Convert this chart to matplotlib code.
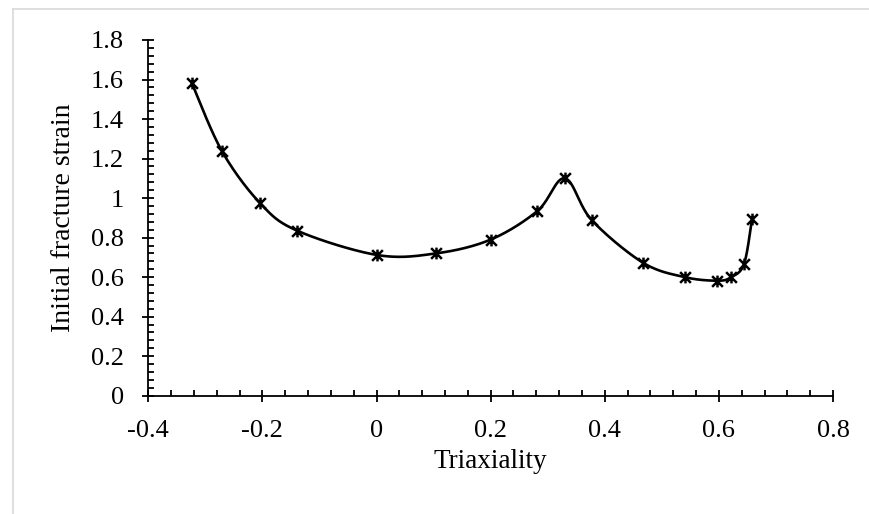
import numpy as np
import matplotlib
matplotlib.use('Agg')
import matplotlib.pyplot as plt
from matplotlib.path import Path
from matplotlib.ticker import MultipleLocator, FuncFormatter
from matplotlib.lines import Line2D

# data
triaxiality = [-0.324, -0.271, -0.204, -0.139, 0.001, 0.104, 0.200, 0.282,
               0.330, 0.377, 0.467, 0.540, 0.597, 0.621, 0.644, 0.658]
fracture_strain = [1.584, 1.238, 0.974, 0.835, 0.712, 0.720, 0.790, 0.935,
                   1.100, 0.889, 0.673, 0.600, 0.582, 0.599, 0.666, 0.893]

x_ticks = [-0.4, -0.2, 0, 0.2, 0.4, 0.6, 0.8]
y_ticks = [0, 0.2, 0.4, 0.6, 0.8, 1, 1.2, 1.4, 1.6, 1.8]

plt.rcParams['font.family'] = ['Liberation Serif', 'DejaVu Serif']


def smooth_curve(xs, ys, n=40):
    # Excel-style smoothed line: cubic bezier, control points at 1/6 of neighbour span
    p = np.column_stack([xs, ys])
    pad = np.vstack([p[0], p, p[-1]])
    out = []
    t = np.linspace(0, 1, n)[:, None]
    for i in range(len(p) - 1):
        p0, p1 = pad[i + 1], pad[i + 2]
        c1 = p0 + (pad[i + 2] - pad[i]) / 6
        c2 = p1 - (pad[i + 3] - pad[i + 1]) / 6
        seg = ((1 - t) ** 3) * p0 + 3 * ((1 - t) ** 2) * t * c1 + 3 * (1 - t) * t ** 2 * c2 + t ** 3 * p1
        out.append(seg if i == 0 else seg[1:])
    out = np.vstack(out)
    return out[:, 0], out[:, 1]


star = Path([(-1, -1), (1, 1), (-1, 1), (1, -1), (0, -1.1), (0, 1.1)],
            [Path.MOVETO, Path.LINETO, Path.MOVETO, Path.LINETO, Path.MOVETO, Path.LINETO])

fig = plt.figure(figsize=(8.7, 5.14), dpi=100)
ax = fig.add_axes([148.3 / 870, 1 - 395.7 / 514, (833 - 148.3) / 870, (395.7 - 40) / 514])

sx, sy = smooth_curve(triaxiality, fracture_strain)
ax.plot(sx, sy, color='black', lw=1.9, zorder=2)
ax.plot(triaxiality, fracture_strain, ls='none', marker=star, ms=8.5,
        mec='black', mfc='none', mew=1.8, zorder=3)

ax.set_xlim(-0.4, 0.8)
ax.set_ylim(0, 1.8)
ax.set_xticks(x_ticks)
ax.set_yticks(y_ticks)
ax.xaxis.set_minor_locator(MultipleLocator(0.04))
ax.yaxis.set_minor_locator(MultipleLocator(0.04))
ax.xaxis.set_major_formatter(FuncFormatter(lambda v, p: f'{v:g}'))
ax.yaxis.set_major_formatter(FuncFormatter(lambda v, p: f'{v:g}'))

for s in ['top', 'right']:
    ax.spines[s].set_visible(False)
for s in ['left', 'bottom']:
    ax.spines[s].set_linewidth(1.3)

ax.tick_params(which='major', direction='inout', length=9, width=1.3, labelsize=19)
ax.tick_params(which='minor', direction='in', length=4.5, width=1.3)
ax.tick_params(axis='x', which='major', pad=13)
ax.tick_params(axis='y', which='major', pad=13)

ax.set_xlabel('Triaxiality', fontsize=19.5, labelpad=5)
ax.set_ylabel('Initial fracture strain', fontsize=20, labelpad=11)

# light grey frame of the chart area (top and left edges visible)
fig.add_artist(Line2D([13 / 870, 1], [1 - 9 / 514, 1 - 9 / 514], color='#d9d9d9', lw=1.2))
fig.add_artist(Line2D([13 / 870, 13 / 870], [0, 1 - 9 / 514], color='#d9d9d9', lw=1.2))

fig.savefig('out.png', dpi=100, facecolor='white')
